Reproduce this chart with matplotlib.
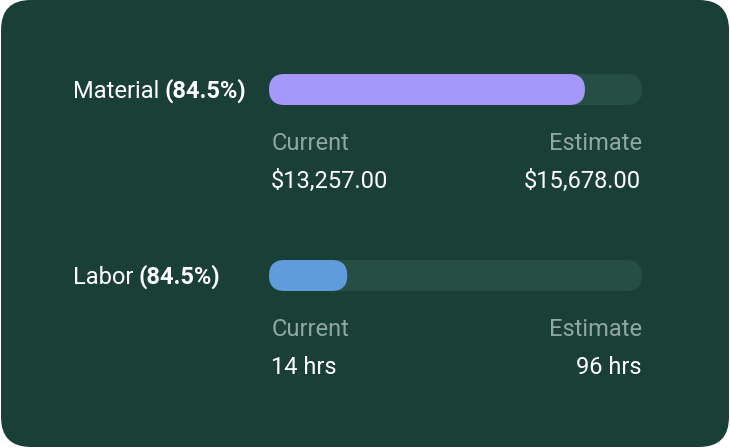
import matplotlib
matplotlib.use("Agg")
import matplotlib.pyplot as plt
from matplotlib.patches import FancyBboxPatch

plt.rcParams['font.family'] = ['Roboto', 'DejaVu Sans']

# data
names = ["Material", "Labor"]
pct_labels = ["(84.5%)", "(84.5%)"]
progress = [0.847, 0.21]
current_vals = ["$13,257.00", "14 hrs"]
estimate_vals = ["$15,678.00", "96 hrs"]
bar_colors = ["#a697fa", "#609bdb"]

BG = "#1a3f37"
TRACK = "#264e45"
MUTED = "#8fa79f"
FS = 17

fig = plt.figure(figsize=(7.3, 4.48), dpi=100)
ax = fig.add_axes([0, 0, 1, 1])
ax.set_xlim(0, 730)
ax.set_ylim(448, 0)
ax.axis("off")

# card
ax.add_patch(FancyBboxPatch((1, 0), 728, 447, boxstyle="round,pad=0,rounding_size=30",
                            fc=BG, ec="none"))

x0, x1 = 269, 642
bh = 31
tops = [74, 260]

fig.canvas.draw()
r = fig.canvas.get_renderer()

for i, name in enumerate(names):
    y = tops[i]
    cy = y + bh / 2
    # track + fill
    ax.add_patch(FancyBboxPatch((x0, y), x1 - x0, bh,
                                boxstyle="round,pad=0,rounding_size=15.5", fc=TRACK, ec="none"))
    w = (x1 - x0) * progress[i]
    ax.add_patch(FancyBboxPatch((x0, y), w, bh,
                                boxstyle="round,pad=0,rounding_size=15.5", fc=bar_colors[i], ec="none"))
    # label with bold part
    t = ax.text(73, cy + 1.5, name + " ", color="white", fontsize=FS, va="center", ha="left")
    bb = t.get_window_extent(renderer=r)
    xe = ax.transData.inverted().transform((bb.x1, bb.y0))[0]
    ax.text(xe - 1, cy + 1.5, pct_labels[i], color="white", fontsize=FS, fontweight="bold",
            va="center", ha="left")
    # current / estimate
    ax.text(x0 + 3, cy + 54, "Current", color=MUTED, fontsize=FS, va="center", ha="left")
    ax.text(x1, cy + 54, "Estimate", color=MUTED, fontsize=FS, va="center", ha="right")
    ax.text(x0 + 2, cy + 92, current_vals[i], color="white", fontsize=FS, va="center", ha="left")
    ax.text(x1 - 1, cy + 92, estimate_vals[i], color="white", fontsize=FS, va="center", ha="right")

fig.savefig("out.png", dpi=100, facecolor="white")
